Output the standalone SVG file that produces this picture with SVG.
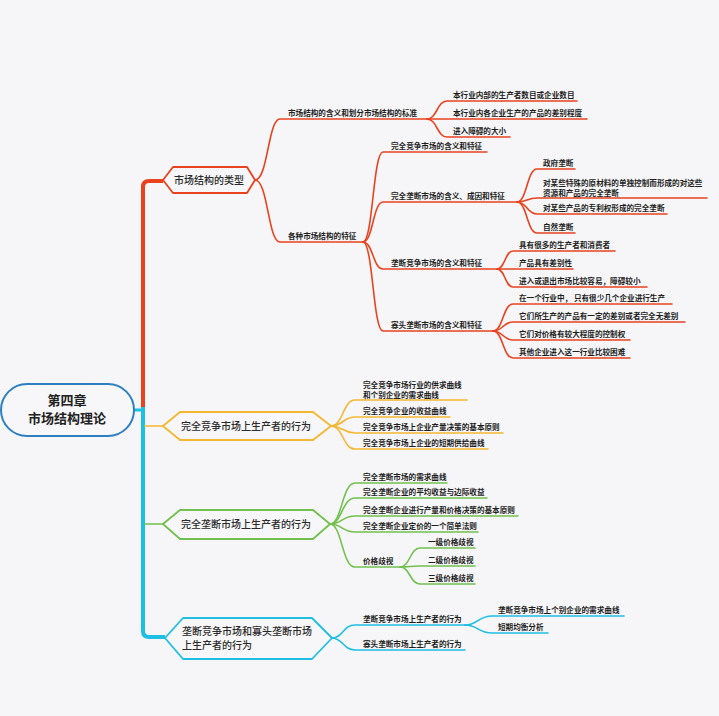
<svg xmlns="http://www.w3.org/2000/svg" width="719" height="716" viewBox="0 0 719 716">
<style>
.bg{fill:#f6f6f8}
.r{stroke:#e8431e}
.y{stroke:#f5b731}
.g{stroke:#72c04f}
.c{stroke:#1fbfe3}
.ln{fill:none;stroke-width:1.6;stroke-linecap:round}
.hx{fill:#f7f7f9;stroke-width:1.8;stroke-linejoin:round}
.nt{font-family:"Noto Sans CJK SC","Noto Sans",sans-serif;font-size:10px;fill:#2b2b2b;font-weight:500}
.lt{font-family:"Noto Sans CJK SC","Noto Sans",sans-serif;font-size:7.6px;fill:#1e1e1e;font-weight:bold}
.rt{font-family:"Noto Sans CJK SC","Noto Sans",sans-serif;font-size:13px;fill:#222;font-weight:bold}
</style>
<rect class="bg" x="0" y="0" width="719" height="716"/>
<g id="connectors">
<path d="M143,409 L143,187 Q143,181 149,181 L163,181" fill="none" stroke="#e8431e" stroke-width="4"/>
<path d="M143,407 L143,631 Q143,637 149,637 L165,637" fill="none" stroke="#1fbfe3" stroke-width="4"/>
<path d="M134,410 L143,410" fill="none" stroke="#1fbfe3" stroke-width="3"/>
<path class="ln y" d="M145,426 L163,426"/>
<path class="ln g" d="M145,524 L163,524"/>
<g class="ln r">
<path d="M255,180 C268,180 268,119 280,119 L427,119"/>
<path d="M255,180 C268,180 268,242 280,242 L363,242"/>
<path d="M427,119 C437,119 437,101 447,101 L577,101"/>
<path d="M427,119 L587,119"/>
<path d="M427,119 C437,119 437,137 447,137 L510,137"/>
<path d="M363,242 C373,242 373,152 383,152 L487,152"/>
<path d="M363,242 C373,242 373,202 383,202 L517,202"/>
<path d="M363,242 C373,242 373,269 383,269 L497,269"/>
<path d="M363,242 C373,242 373,331 383,331 L493,331"/>
<path d="M517,202 C527,202 527,169 537,169 L575,169"/>
<path d="M517,202 C527,202 527,198 537,198 L707,198"/>
<path d="M517,202 C527,202 527,214 537,214 L667,214"/>
<path d="M517,202 C527,202 527,233 537,233 L575,233"/>
<path d="M497,269 C505,269 505,251 513,251 L615,251"/>
<path d="M497,269 L573,269"/>
<path d="M497,269 C505,269 505,287 513,287 L647,287"/>
<path d="M493,331 C503,331 503,304 513,304 L672,304"/>
<path d="M493,331 C503,331 503,322 513,322 L685,322"/>
<path d="M493,331 C503,331 503,340 513,340 L630,340"/>
<path d="M493,331 C503,331 503,358 513,358 L630,358"/>
</g>
<g class="ln y">
<path d="M331,426 C343,426 343,400 355,400 L467,400"/>
<path d="M331,426 C343,426 343,417 355,417 L450,417"/>
<path d="M331,426 C343,426 343,433 355,433 L503,433"/>
<path d="M331,426 C343,426 343,449 355,449 L488,449"/>
</g>
<g class="ln g">
<path d="M330,524 C342,524 342,483 355,483 L447,483"/>
<path d="M330,524 C342,524 342,498 355,498 L487,498"/>
<path d="M330,524 C342,524 342,516 355,516 L518,516"/>
<path d="M330,524 C342,524 342,532 355,532 L478,532"/>
<path d="M330,524 C342,524 342,567 355,567 L400,567"/>
<path d="M400,567 C410,567 410,548 420,548 L475,548"/>
<path d="M400,567 C410,567 410,566 420,566 L475,566"/>
<path d="M400,567 C410,567 410,584 420,584 L475,584"/>
</g>
<g class="ln c">
<path d="M332,638 C343,638 343,625 355,625 L465,625"/>
<path d="M332,638 C343,638 343,650 355,650 L465,650"/>
<path d="M465,625 C478,625 478,616 492,616 L624,616"/>
<path d="M465,625 C478,625 478,633 492,633 L548,633"/>
</g>
</g>
<g id="root">
<rect x="1" y="384" width="133" height="52" rx="26" ry="26" fill="#f7f7f9" stroke="#2e7fc0" stroke-width="2"/>
<text class="rt" x="67" y="405" text-anchor="middle">第四章</text>
<text class="rt" x="67" y="423" text-anchor="middle">市场结构理论</text>
</g>
<g id="node1">
<polygon class="hx r" points="163,180 173,167 247,167 255,180 247,193 173,193"/>
<text class="nt" x="209" y="184" text-anchor="middle">市场结构的类型</text>
</g>
<g id="node2">
<polygon class="hx y" points="163,426 180,412 313,412 331,426 313,440 180,440"/>
<text class="nt" x="246" y="429.5" text-anchor="middle">完全竞争市场上生产者的行为</text>
</g>
<g id="node3">
<polygon class="hx g" points="163,524 180,510 313,510 330,524 313,539 180,539"/>
<text class="nt" x="246" y="528" text-anchor="middle">完全垄断市场上生产者的行为</text>
</g>
<g id="node4">
<polygon class="hx c" points="165,638 183,618 312,618 332,638 312,659 183,659"/>
<text class="nt" x="182" y="635">垄断竞争市场和寡头垄断市场</text>
<text class="nt" x="182" y="649">上生产者的行为</text>
</g>
<g id="labels-node1">
<text class="lt" x="288" y="116">市场结构的含义和划分市场结构的标准</text>
<text class="lt" x="453" y="98">本行业内部的生产者数目或企业数目</text>
<text class="lt" x="453" y="116">本行业内各企业生产的产品的差别程度</text>
<text class="lt" x="453" y="134">进入障碍的大小</text>
<text class="lt" x="288" y="239">各种市场结构的特征</text>
<text class="lt" x="391" y="149">完全竞争市场的含义和特征</text>
<text class="lt" x="391" y="199">完全垄断市场的含义、成因和特征</text>
<text class="lt" x="543" y="166">政府垄断</text>
<text class="lt" x="543" y="186">对某些特殊的原材料的单独控制而形成的对这些</text>
<text class="lt" x="543" y="196">资源和产品的完全垄断</text>
<text class="lt" x="543" y="211">对某些产品的专利权形成的完全垄断</text>
<text class="lt" x="543" y="230">自然垄断</text>
<text class="lt" x="391" y="266">垄断竞争市场的含义和特征</text>
<text class="lt" x="519" y="248">具有很多的生产者和消费者</text>
<text class="lt" x="519" y="266">产品具有差别性</text>
<text class="lt" x="519" y="284">进入或退出市场比较容易，障碍较小</text>
<text class="lt" x="391" y="328">寡头垄断市场的含义和特征</text>
<text class="lt" x="519" y="301">在一个行业中， 只有很少几个企业进行生产</text>
<text class="lt" x="519" y="319">它们所生产的产品有一定的差别或者完全无差别</text>
<text class="lt" x="519" y="337">它们对价格有较大程度的控制权</text>
<text class="lt" x="519" y="355">其他企业进入这一行业比较困难</text>
</g>
<g id="labels-node2">
<text class="lt" x="363" y="387.5">完全竞争市场行业的供求曲线</text>
<text class="lt" x="363" y="397.5">和个别企业的需求曲线</text>
<text class="lt" x="363" y="414">完全竞争企业的收益曲线</text>
<text class="lt" x="363" y="430">完全竞争市场上企业产量决策的基本原则</text>
<text class="lt" x="363" y="446">完全竞争市场上企业的短期供给曲线</text>
</g>
<g id="labels-node3">
<text class="lt" x="363" y="480">完全垄断市场的需求曲线</text>
<text class="lt" x="363" y="495">完全垄断企业的平均收益与边际收益</text>
<text class="lt" x="363" y="513">完全垄断企业进行产量和价格决策的基本原则</text>
<text class="lt" x="363" y="529">完全垄断企业定价的一个简单法则</text>
<text class="lt" x="363" y="564">价格歧视</text>
<text class="lt" x="428" y="545">一级价格歧视</text>
<text class="lt" x="428" y="563">二级价格歧视</text>
<text class="lt" x="428" y="581">三级价格歧视</text>
</g>
<g id="labels-node4">
<text class="lt" x="363" y="622">垄断竞争市场上生产者的行为</text>
<text class="lt" x="498" y="613">垄断竞争市场上个别企业的需求曲线</text>
<text class="lt" x="498" y="630">短期均衡分析</text>
<text class="lt" x="363" y="647">寡头垄断市场上生产者的行为</text>
</g>
</svg>
